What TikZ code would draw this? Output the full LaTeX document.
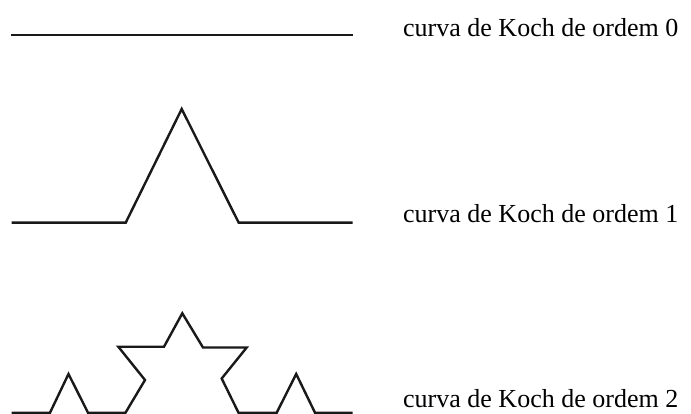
\documentclass[tikz,border=0pt]{standalone}
\usepackage{fontspec}
\setmainfont{Liberation Serif}
\begin{document}
\begin{tikzpicture}[x=1pt,y=-1pt,
  koch/.style={line width=2.4pt,black!90,line join=miter,line cap=butt},
  lbl/.style={anchor=base west,inner sep=0pt,font=\fontsize{26}{26}\selectfont}]
\useasboundingbox (0,0) rectangle (691,414);
% order 0
\draw[koch] (11,35) -- (353,35);
% order 1
\draw[koch] (11.7,222.7) -- (125.7,222.7) -- (181.7,109) -- (238.7,222.7) -- (352.7,222.7);
% order 2
\draw[koch] (11.7,412.7) -- (50,412.7) -- (68.5,374) -- (88,412.7) -- (125.5,412.7)
  -- (145,380) -- (118.3,346.7) -- (164,346.7) -- (182.3,313.3) -- (203,347.5)
  -- (246.7,347.5) -- (221.7,378.5) -- (238.5,412.7) -- (276.7,412.7)
  -- (296.2,374) -- (315,412.7) -- (352.7,412.7);
% labels
\node[lbl] (l0) at (403,37) {curva de Koch de ordem 0};
\node[lbl] (l1) at (403,223) {curva de Koch de ordem 1};
\node[lbl] (l2) at (403,407) {curva de Koch de ordem 2};
\end{tikzpicture}
\end{document}
